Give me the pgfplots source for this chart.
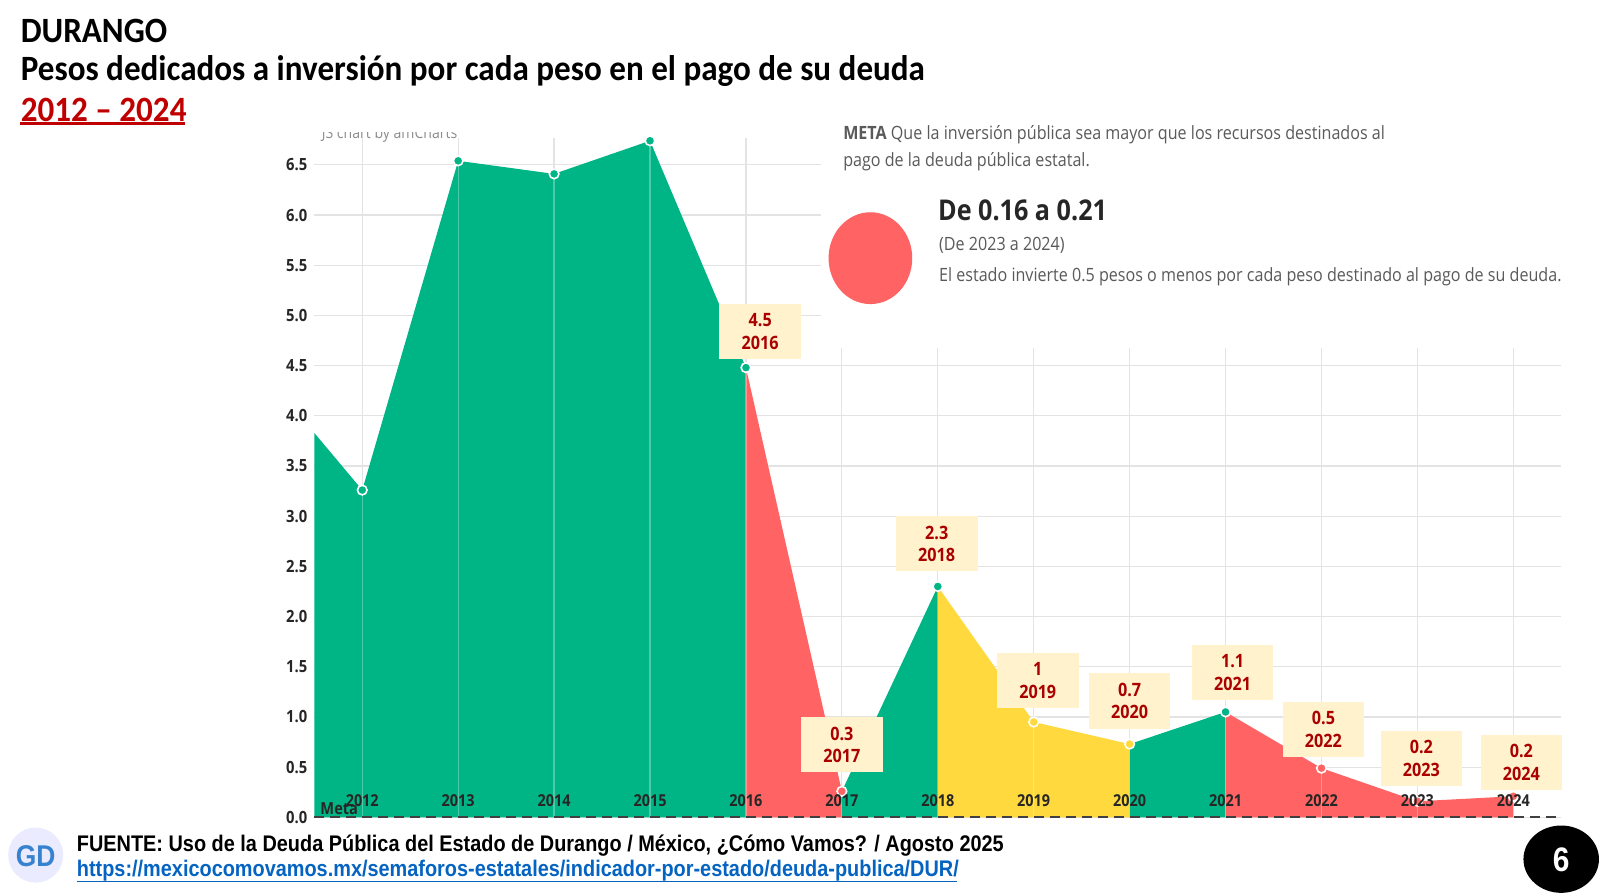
\documentclass[border=0pt]{standalone}
\usepackage{pgfplots}
\pgfplotsset{compat=1.18}
\usepackage{fontspec}
\setmainfont{Open Sans}
\newfontfamily\titlefont[FakeStretch=0.93]{Carlito}
\newfontfamily\chartfont[FakeStretch=0.88]{Open Sans}
\newfontfamily\footfont[FakeStretch=0.88]{Liberation Sans}
\definecolor{cgreen}{RGB}{0,181,133}
\definecolor{cred}{RGB}{255,99,99}
\definecolor{cyellow}{RGB}{255,217,61}
\definecolor{cream}{RGB}{255,242,204}
\definecolor{dred}{RGB}{170,0,0}
\definecolor{tred}{RGB}{192,0,0}
\definecolor{lgray}{RGB}{90,90,90}
\definecolor{linkblue}{RGB}{5,99,193}
\begin{document}
\begin{tikzpicture}
\useasboundingbox (0,0) rectangle (800pt,-447.5pt);
\begin{axis}[
  at={(157.14pt,-408.67pt)}, anchor=south west,
  scale only axis, width=623.5pt, height=339.8pt,
  xmin=2011.5, xmax=2024.5, ymin=0, ymax=6.77,
  clip=false,
  axis line style={draw=none},
  major tick length=0pt,
  xtick={2012,2013,...,2024},
  xticklabels={},
  ytick={0,0.5,1,1.5,2,2.5,3,3.5,4,4.5,5,5.5,6,6.5},
  grid=major,
  major grid style={draw=black!11, line width=0.6pt},
  /pgf/number format/assume math mode=true,
  yticklabel style={font=\chartfont\bfseries\fontsize{8.4}{9}\selectfont, text=black!85, /pgf/number format/fixed, /pgf/number format/fixed zerofill, /pgf/number format/precision=1},
]
% white panel that hides the grid behind the goal text
\fill[white] (axis cs:2016.78,4.68) rectangle (axis cs:2024.55,6.9);
% coloured areas
\addplot[fill=cgreen, draw=none] coordinates {(2011.5,3.83) (2012,3.26) (2013,6.54) (2014,6.41) (2015,6.74) (2016,4.48)} \closedcycle;
\addplot[fill=cred, draw=none] coordinates {(2016,4.48) (2017,0.26)} \closedcycle;
\addplot[fill=cgreen, draw=none] coordinates {(2017,0.26) (2018,2.30)} \closedcycle;
\addplot[fill=cyellow, draw=none] coordinates {(2018,2.30) (2019,0.95) (2020,0.73)} \closedcycle;
\addplot[fill=cgreen, draw=none] coordinates {(2020,0.73) (2021,1.05)} \closedcycle;
\addplot[fill=cred, draw=none] coordinates {(2021,1.05) (2022,0.49) (2023,0.16) (2024,0.21)} \closedcycle;
% faint grid lines over the areas
\addplot[ycomb, draw=white, opacity=0.3, line width=0.6pt, mark=none] coordinates {(2012,3.26) (2013,6.54) (2014,6.41) (2015,6.74) (2016,4.48) (2017,0.26) (2018,2.30) (2019,0.95) (2020,0.73) (2021,1.05) (2022,0.49) (2023,0.16) (2024,0.21)};
% goal line
\addplot[draw=black!75, line width=1pt, dash pattern=on 5pt off 3pt, mark=none] coordinates {(2011.5,0) (2024.5,0)};
% markers
\addplot[only marks, mark=*, mark size=2.4pt, mark options={fill=cgreen, draw=white, line width=0.8pt}] coordinates {(2012,3.26) (2013,6.54) (2014,6.41) (2015,6.74) (2016,4.48) (2018,2.30) (2021,1.05)};
\addplot[only marks, mark=*, mark size=2.4pt, mark options={fill=cred, draw=white, line width=0.8pt}] coordinates {(2017,0.26) (2022,0.49) (2023,0.16) (2024,0.21)};
\addplot[only marks, mark=*, mark size=2.4pt, mark options={fill=cyellow, draw=white, line width=0.8pt}] coordinates {(2019,0.95) (2020,0.73)};
% year labels, drawn above the areas
\addplot[draw=none, mark=none, point meta=explicit symbolic, nodes near coords, nodes near coords align={anchor=south},
  nodes near coords style={font=\chartfont\bfseries\fontsize{8.2}{9}\selectfont, text=black!85, inner sep=1pt, yshift=4pt}]
  coordinates {(2012,0) [2012] (2013,0) [2013] (2014,0) [2014] (2015,0) [2015] (2016,0) [2016] (2017,0) [2017] (2018,0) [2018] (2019,0) [2019] (2020,0) [2020] (2021,0) [2021] (2022,0) [2022] (2023,0) [2023] (2024,0) [2024]};
\node[anchor=south west, inner sep=0.5pt, font=\chartfont\bfseries\fontsize{8.3}{9}\selectfont, text=black!85] at (axis cs:2011.55,0.01) {Meta};
\end{axis}
\begin{scope}[x=0.5102pt,y=-0.5102pt]
% amCharts credit, cut at the top
\begin{scope}
\clip (300,130) rectangle (470,142);
\node[anchor=west, inner sep=0, text=black!45, font=\chartfont\fontsize{8}{9}\selectfont] at (315,132) {JS chart by amCharts};
\end{scope}
% titles
\node[anchor=west, inner sep=0, font=\titlefont\bfseries\fontsize{17.8}{18}\selectfont] at (20,30) {DURANGO};
\node[anchor=west, inner sep=0, font=\titlefont\bfseries\fontsize{17.8}{18}\selectfont] at (20,70) {Pesos dedicados a inversión por cada peso en el pago de su deuda};
\node[anchor=west, inner sep=0, text=tred, font=\titlefont\bfseries\fontsize{17.8}{18}\selectfont] at (20,108) {2012 – 2024};
\draw[tred, line width=1.2pt] (20,121) -- (181,121);
% goal panel
\node[anchor=west, inner sep=0, text=lgray, font=\chartfont\fontsize{9.15}{10}\selectfont] at (826,132) {\textbf{META} Que la inversión pública sea mayor que los recursos destinados al};
\node[anchor=west, inner sep=0, text=lgray, font=\chartfont\fontsize{9.15}{10}\selectfont] at (826,158) {pago de la deuda pública estatal.};
\fill[cred] (853,253) ellipse [x radius=41, y radius=45];
\node[anchor=west, inner sep=0, text=black!85, font=\chartfont\bfseries\fontsize{14.3}{16}\selectfont] at (919,206) {De 0.16 a 0.21};
\node[anchor=west, inner sep=0, text=lgray, font=\chartfont\fontsize{9.15}{10}\selectfont] at (920,240) {(De 2023 a 2024)};
\node[anchor=west, inner sep=0, text=lgray, font=\chartfont\fontsize{9.15}{10}\selectfont] at (920,271) {El estado invierte 0.5 pesos o menos por cada peso destinado al pago de su deuda.};
% callouts
\tikzset{call/.style={fill=cream, minimum width=40.8pt, minimum height=27.6pt, inner sep=0, align=center, text=dred, font=\chartfont\bfseries\fontsize{9.2}{11.3}\selectfont}}
\node[call] at (745,325) {4.5\\2016};
\node[call] at (825,730) {0.3\\2017};
\node[call] at (918,533) {2.3\\2018};
\node[call] at (1017,667) {1\\2019};
\node[call] at (1107,687) {0.7\\2020};
\node[call] at (1208,659) {1.1\\2021};
\node[call] at (1297,715) {0.5\\2022};
\node[call] at (1393,743) {0.2\\2023};
\node[call] at (1491,747) {0.2\\2024};
% footer
\fill[blue!8] (35,838) circle (27);
\node[text=linkblue!80, font=\footfont\bfseries\fontsize{15}{16}\selectfont, inner sep=0] at (35,839) {GD};
\node[anchor=west, inner sep=0, font=\footfont\bfseries\fontsize{11.3}{12}\selectfont] at (75,829) {FUENTE: Uso de la Deuda Pública del Estado de Durango / México, ¿Cómo Vamos? / Agosto 2025};
\node[anchor=west, inner sep=0, text=linkblue, font=\footfont\bfseries\fontsize{11.3}{12}\selectfont] at (75,853) {https://mexicocomovamos.mx/semaforos-estatales/indicador-por-estado/deuda-publica/DUR/};
\draw[linkblue, line width=0.7pt] (75,864) -- (938,864);
\fill[black] (1530,842) ellipse [x radius=37, y radius=33];
\node[text=white, font=\footfont\bfseries\fontsize{17}{18}\selectfont, inner sep=0] at (1530,843) {6};
\end{scope}
\end{tikzpicture}
\end{document}
